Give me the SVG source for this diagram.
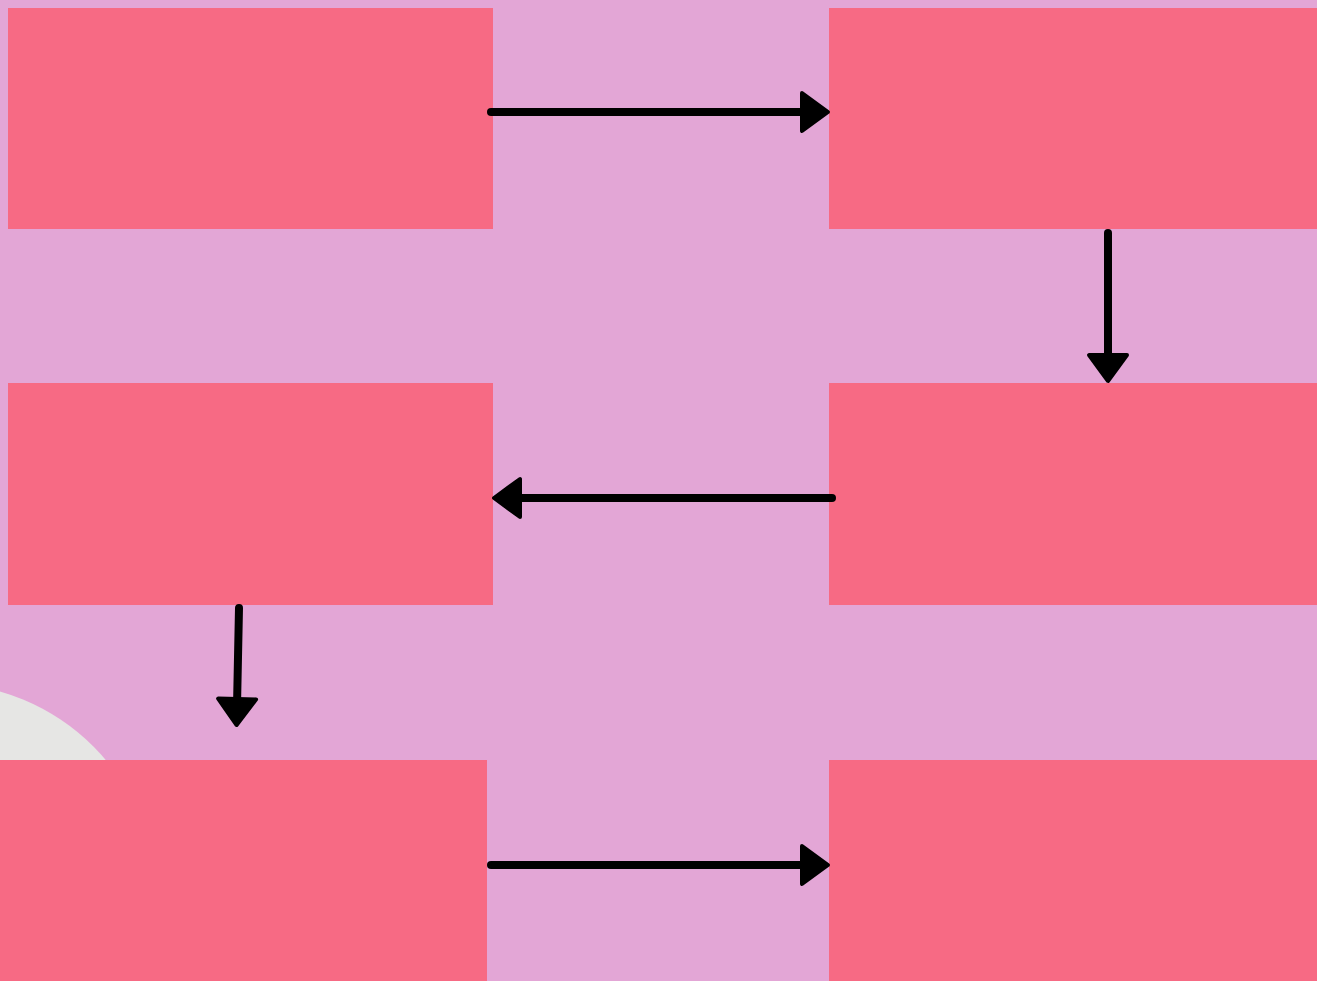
<svg xmlns="http://www.w3.org/2000/svg" width="1317" height="981" viewBox="0 0 1317 981">
  <style>
    .box { fill: #F76A84; }
    .conn { stroke: #000; stroke-width: 8; fill: none; stroke-linecap: round; marker-end: url(#head); }
  </style>
  <defs>
    <marker id="head" markerUnits="userSpaceOnUse" viewBox="0 0 32 46" markerWidth="32" markerHeight="46" refX="10" refY="23" orient="auto">
      <path d="M3,4 L29,23 L3,42 Z" fill="#000" stroke="#000" stroke-width="4" stroke-linejoin="round"/>
    </marker>
  </defs>
  <rect x="0" y="0" width="1317" height="981" fill="#E3A6D6"/>
  <circle cx="-60" cy="900" r="217" fill="#E6E6E4"/>
  <g id="node1"><rect class="box" x="8" y="8" width="485" height="221"/></g>
  <g id="node2"><rect class="box" x="829" y="8" width="488" height="221"/></g>
  <g id="node3"><rect class="box" x="8" y="383" width="485" height="222"/></g>
  <g id="node4"><rect class="box" x="829" y="383" width="488" height="222"/></g>
  <g id="node5"><rect class="box" x="0" y="760" width="487" height="221"/></g>
  <g id="node6"><rect class="box" x="829" y="760" width="488" height="221"/></g>
  <g id="connectors">
    <line class="conn" x1="491" y1="112" x2="809" y2="112"/>
    <line class="conn" x1="1108" y1="233" x2="1108" y2="362"/>
    <line class="conn" x1="832" y1="498" x2="513" y2="498"/>
    <line class="conn" x1="239" y1="608" x2="237" y2="706"/>
    <line class="conn" x1="491" y1="865" x2="809" y2="865"/>
  </g>
</svg>
